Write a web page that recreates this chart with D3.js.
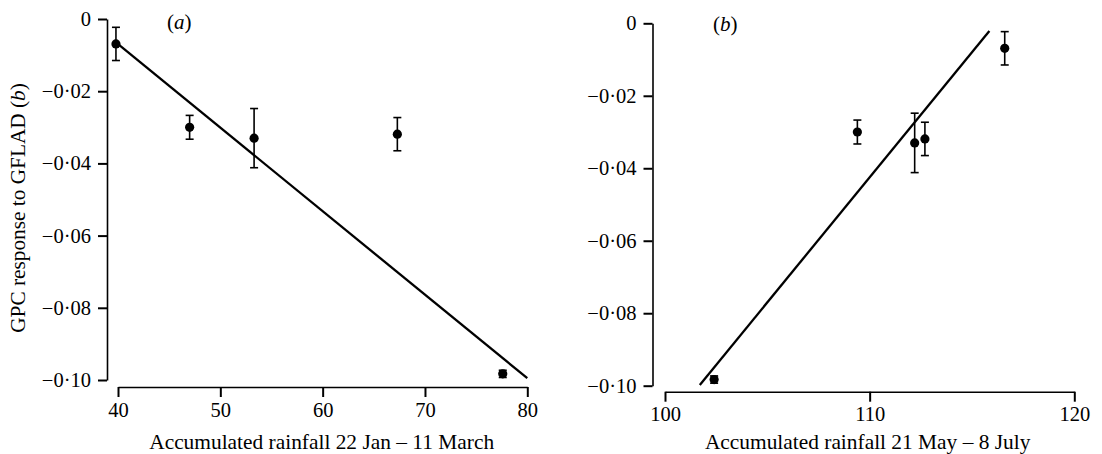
<!DOCTYPE html>
<html><head><meta charset="utf-8">
<script src="https://cdn.jsdelivr.net/npm/d3@7"></script>
<style>
body{margin:0;background:#fff;}
svg text{font-family:"Liberation Serif","Times New Roman",serif;fill:#000;}
</style></head>
<body><svg id="c" width="1102" height="454"></svg>
<script>
// Shared response values (GPC response to GFLAD, b) and their error bars
const yVals = [-0.0069, -0.0300, -0.0330, -0.0319, -0.0983];
const yErr  = [0.0046, 0.0033, 0.0082, 0.0046, 0.0010];
// Accumulated rainfall for each point
const xA = [39.8, 47.0, 53.3, 67.3, 77.6];
const xB = [116.6, 109.4, 112.2, 112.7, 102.4];
// Regression line endpoints [x, y]
const fitA = [[39.8, -0.0065], [80, -0.0995]];
const fitB = [[101.7, -0.0998], [115.85, -0.0021]];
// Axis ticks
const yTicks = [0, -0.02, -0.04, -0.06, -0.08, -0.10];
const xTicksA = [40, 50, 60, 70, 80];
const xTicksB = [100, 110, 120];
const titleA = "Accumulated rainfall 22 Jan \u2013 11 March";
const titleB = "Accumulated rainfall 21 May \u2013 8 July";

const svg = d3.select("#c");
const fmtY = v => v === 0 ? "0" : "\u2212" + Math.abs(v).toFixed(2).replace(".", "\u00b7");

function panel(cfg){
  const g = svg.append("g");
  const x = d3.scaleLinear().domain(cfg.xDom).range(cfg.xRange);
  const y = d3.scaleLinear().domain([0, -0.10]).range(cfg.yRange);

  const ya = g.append("g").attr("transform", `translate(${cfg.yAxisX},0)`)
    .call(d3.axisLeft(y).tickValues(yTicks).tickFormat(fmtY).tickSize(9).tickSizeOuter(0).tickPadding(7));
  const xa = g.append("g").attr("transform", `translate(0,${cfg.xAxisY})`)
    .call(d3.axisBottom(x).tickValues(cfg.xTicks).tickFormat(d3.format("d")).tickSize(10).tickSizeOuter(0).tickPadding(5));
  [ya, xa].forEach(a => {
    a.select(".domain").attr("stroke", "#000").attr("stroke-width", 1.6);
    a.selectAll(".tick line").attr("stroke", "#000").attr("stroke-width", 2);
    a.selectAll(".tick text").attr("font-size", 20.5).attr("font-family", "Liberation Serif");
  });

  // regression line
  g.append("path").datum(cfg.fit)
    .attr("d", d3.line().x(d => x(d[0])).y(d => y(d[1])))
    .attr("stroke", "#000").attr("stroke-width", 2.3).attr("fill", "none");

  const pts = cfg.xs.map((xv, i) => ({x: xv, y: yVals[i], e: yErr[i]}));
  const eb = g.append("g").attr("stroke", "#000").attr("stroke-width", 1.6);
  pts.forEach(p => {
    const cx = x(p.x), t = y(p.y + p.e), b = y(p.y - p.e);
    eb.append("line").attr("x1", cx).attr("x2", cx).attr("y1", t).attr("y2", b);
    eb.append("line").attr("x1", cx - 4).attr("x2", cx + 4).attr("y1", t).attr("y2", t);
    eb.append("line").attr("x1", cx - 4).attr("x2", cx + 4).attr("y1", b).attr("y2", b);
  });
  g.selectAll("circle.pt").data(pts).enter().append("circle")
    .attr("cx", d => x(d.x)).attr("cy", d => y(d.y)).attr("r", 4.6).attr("fill", "#000");

  g.append("text").attr("x", cfg.label[0]).attr("y", cfg.label[1]).attr("font-size", 21)
    .html(`(<tspan font-style="italic">${cfg.letter}</tspan>)`);
  g.append("text").attr("x", (cfg.xRange[0] + cfg.xRange[1]) / 2 + cfg.titleDx).attr("y", 449)
    .attr("text-anchor", "middle").attr("font-size", 21.4).text(cfg.title);
}

panel({xDom:[40,80], xRange:[118,527.3], yRange:[19,380], yAxisX:107, xAxisY:387,
  xTicks:xTicksA, xs:xA, fit:fitA, label:[167,29], letter:"a", title:titleA, titleDx:-1});
panel({xDom:[100,120], xRange:[665,1074.3], yRange:[23.3,385.7], yAxisX:652.5, xAxisY:391.7,
  xTicks:xTicksB, xs:xB, fit:fitB, label:[713,31], letter:"b", title:titleB, titleDx:-2});

svg.append("text").attr("transform", "translate(25,208) rotate(-90)")
  .attr("text-anchor", "middle").attr("font-size", 21.3)
  .html('GPC response to GFLAD (<tspan font-style="italic">b</tspan>)');
</script></body></html>
